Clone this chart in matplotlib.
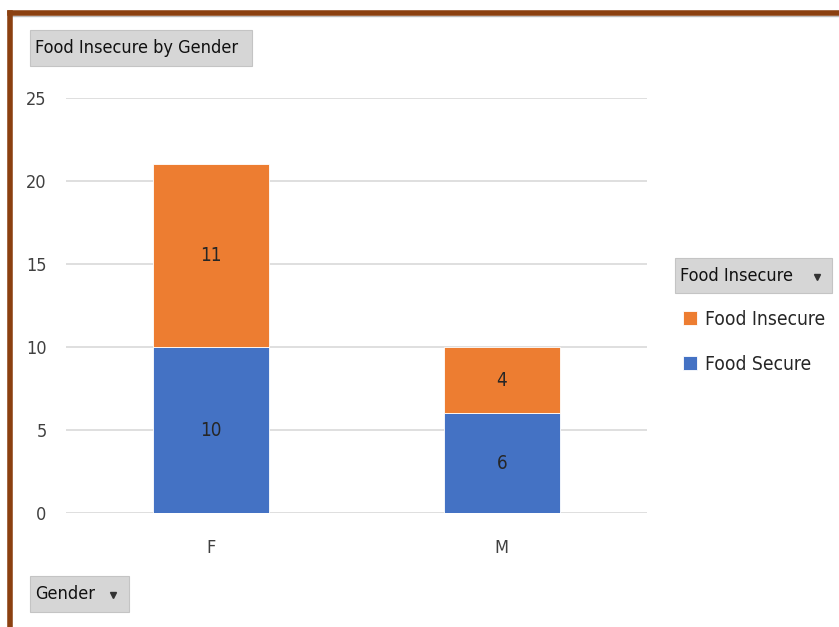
import matplotlib
matplotlib.use("Agg")
import matplotlib.pyplot as plt
from matplotlib.patches import Rectangle
from matplotlib.lines import Line2D
import numpy as np

genders = ["F", "M"]
food_secure = [10, 6]
food_insecure = [11, 4]
yticks = [0, 5, 10, 15, 20, 25]

blue = "#4472C4"
orange = "#ED7D31"
brown = "#8B4010"
txt = "#262626"
plt.rcParams["font.family"] = ["DejaVu Sans"]
plt.rcParams["font.stretch"] = "condensed"

W, H = 839, 627
fig = plt.figure(figsize=(W / 100, H / 100), dpi=100)

def fx(px):
    return px / W

def fy(py):
    return 1 - py / H

ax = fig.add_axes([fx(66), fy(513), fx(647) - fx(66), fy(98) - fy(513)])

x = np.arange(len(genders))
b1 = ax.bar(x, food_secure, width=0.4, color=blue, edgecolor="white",
            linewidth=0.6, label="Food Secure", zorder=3)
b2 = ax.bar(x, food_insecure, width=0.4, bottom=food_secure, color=orange,
            edgecolor="white", linewidth=0.6, label="Food Insecure", zorder=3)

for bars, vals in ((b1, food_secure), (b2, food_insecure)):
    ax.bar_label(bars, labels=[str(v) for v in vals], label_type="center",
                 fontsize=13.5, color=txt)

ax.set_xlim(-0.5, 1.5)
ax.set_ylim(0, 25)
ax.set_yticks(yticks)
ax.set_xticks(x)
ax.set_xticklabels(genders)
ax.grid(axis="y", color="#d9d9d9", linewidth=1.2, zorder=0)
for s in ax.spines.values():
    s.set_visible(False)
ax.tick_params(axis="both", length=0, labelsize=13, labelcolor="#404040")
ax.tick_params(axis="y", pad=14)
ax.tick_params(axis="x", pad=19)

# legend, insecure on top
leg = ax.legend([b2, b1], ["Food Insecure", "Food Secure"], loc="upper left",
                bbox_to_anchor=(fx(675), fy(302)), bbox_transform=fig.transFigure,
                frameon=False, handlelength=0.75, handleheight=0.75,
                handletextpad=0.4, labelspacing=1.35, borderaxespad=0,
                prop={"size": 13.8})
for t in leg.get_texts():
    t.set_color(txt)

# gray field buttons
def button(x0, y0, x1, y1, label, arrow=None):
    fig.add_artist(Rectangle((fx(x0), fy(y1)), fx(x1) - fx(x0), fy(y0) - fy(y1),
                             transform=fig.transFigure, facecolor="#d6d6d6",
                             edgecolor="#c4c4c4", linewidth=0.8))
    fig.text(fx(x0 + 5), fy((y0 + y1) / 2), label, ha="left", va="center",
             fontsize=13, color="#111111")
    if arrow is not None:
        fig.add_artist(Line2D([fx(arrow)], [fy((y0 + y1) / 2 + 1)], marker="v",
                              markersize=5, color="#333333",
                              transform=fig.transFigure))

button(30, 30, 252, 66, "Food Insecure by Gender")
button(675, 258, 832, 293, "Food Insecure", arrow=817)
button(30, 576, 129, 612, "Gender", arrow=113)

# frame border on top and left
fig.add_artist(Line2D([fx(9.5), 1.0], [fy(16), fy(16)], color="#bdbdbd",
                      linewidth=1, transform=fig.transFigure))
fig.add_artist(Line2D([fx(9.5), 1.0], [fy(12.5), fy(12.5)], color=brown,
                      linewidth=4, solid_capstyle="projecting",
                      transform=fig.transFigure))
fig.add_artist(Line2D([fx(9.5), fx(9.5)], [fy(12.5), 0.0], color=brown,
                      linewidth=4, solid_capstyle="projecting",
                      transform=fig.transFigure))

fig.savefig("out.png", dpi=100)
